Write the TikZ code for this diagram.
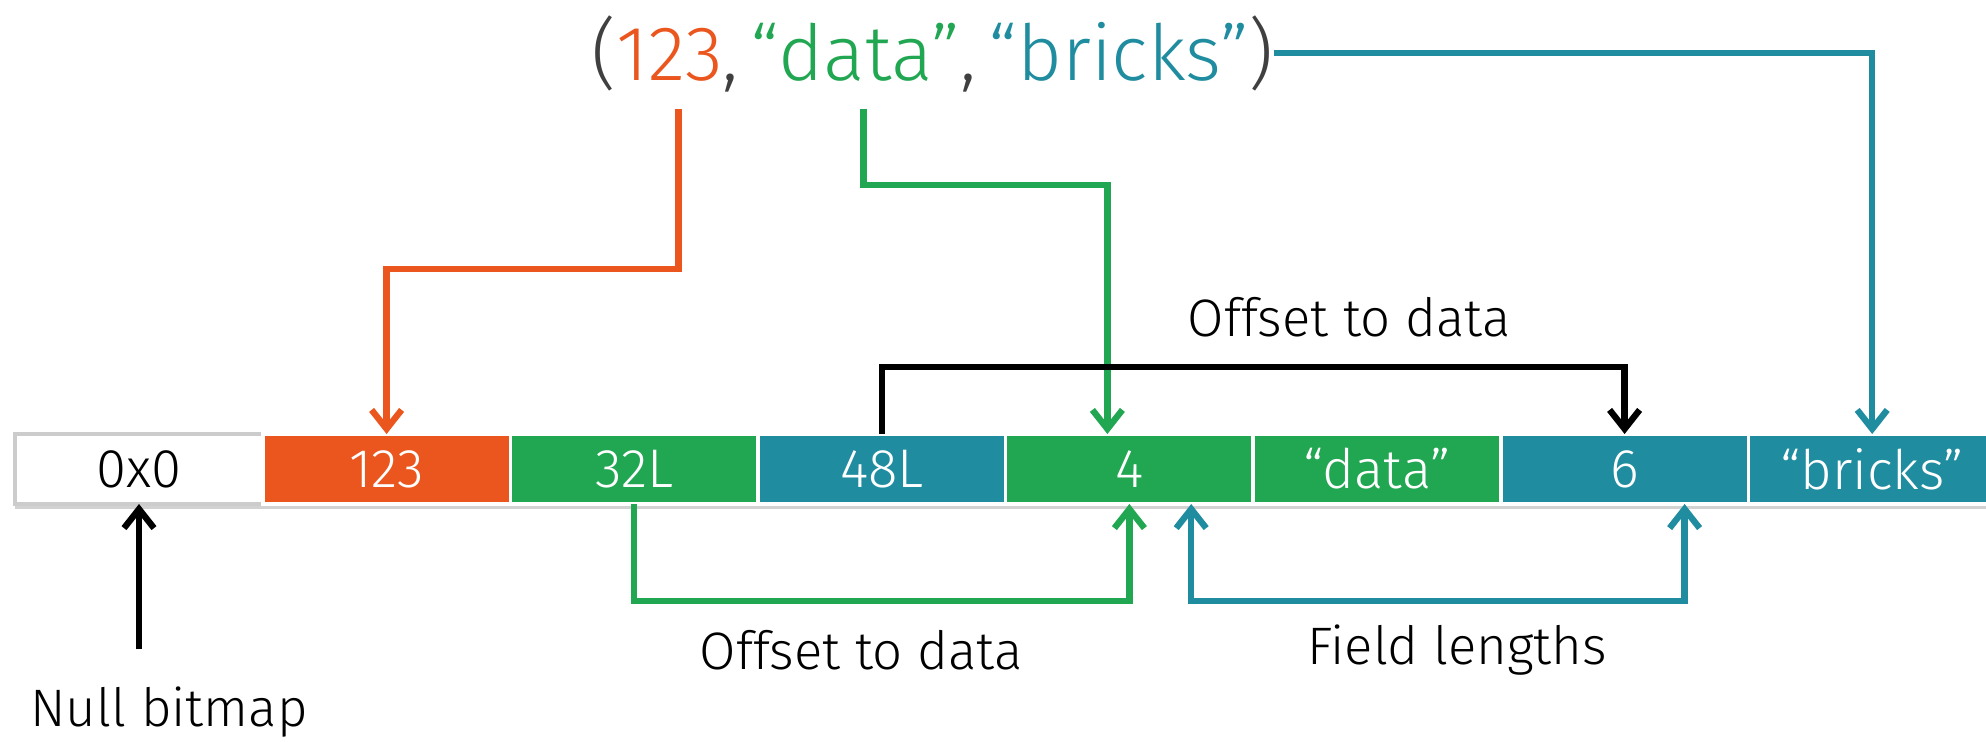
\documentclass[tikz,border=0pt]{standalone}
\usepackage{fontspec}
\setmainfont{Fira Sans}[UprightFont=* Light]
\usetikzlibrary{positioning,arrows.meta,shadows}

\definecolor{rowOrange}{RGB}{234,86,30}
\definecolor{rowGreen}{RGB}{33,166,82}
\definecolor{rowTeal}{RGB}{31,140,160}

\begin{document}
\begin{tikzpicture}[
	>={Straight Barb[length=1.9mm,width=3mm]},
	field/.style={draw=white,line width=1pt,minimum width=2.476cm,minimum height=0.7cm,inner sep=0pt,outer sep=0pt,text=white,font=\fontsize{15.5}{18}\selectfont,drop shadow={shadow xshift=0cm,shadow yshift=-0.05cm,opacity=0.35}},
	tup/.style={inner sep=0pt,outer sep=0pt,anchor=base west,font=\fontsize{22}{26}\selectfont},
	lbl/.style={font=\fontsize{15}{18}\selectfont},
	link/.style={line width=1.8pt,->}
]
	\useasboundingbox (0,0) rectangle (19.86,-7.41);
	\fill[white] (0,0) rectangle (19.86,-7.41);
	% the row
	\node[field,fill=white,draw=gray!40,text=black] (nullmap) at (1.39,-4.69) {0x0};
	\node[field,fill=rowOrange,right=0pt of nullmap] (fid) {123};
	\node[field,fill=rowGreen,right=0pt of fid] (off1) {32L};
	\node[field,fill=rowTeal,right=0pt of off1] (off2) {48L};
	\node[field,fill=rowGreen,right=0pt of off2] (len1) {4};
	\node[field,fill=rowGreen,right=0pt of len1] (str1) {“data”};
	\node[field,fill=rowTeal,right=0pt of str1] (len2) {6};
	\node[field,fill=rowTeal,right=0pt of len2] (str2) {“bricks”};
	% the tuple
	\node[tup,text=black!75] (lp) at (5.915,-0.8) {(};
	\node[tup,text=rowOrange] (num) at (lp.base east) {123};
	\node[tup,text=black!75] (c1) at (num.base east) {,};
	\node[tup,text=rowGreen] (wd) at ([xshift=0.12cm]c1.base east) {“data”};
	\node[tup,text=black!75] (c2) at (wd.base east) {,};
	\node[tup,text=rowTeal] (wb) at ([xshift=0.12cm]c2.base east) {“bricks”};
	\node[tup,text=black!75] (rp) at (wb.base east) {)};
	% labels
	\node[lbl] (toplbl) at (13.49,-3.17) {Offset to data};
	\node[lbl] (botlbl) at (8.61,-6.5) {Offset to data};
	\node[lbl] (lenlbl) at (14.57,-6.5) {Field lengths};
	\node[lbl,anchor=west] (nblbl) at (0.18,-7.12) {Null bitmap};
	% connectors
	\draw[link,rowTeal] (rp.east) -| (str2.north);
	\draw[link,rowOrange] ([xshift=0.09cm,yshift=-0.28cm]num.south) -- ++(0,-1.6) -| (fid.north);
	\draw[link,rowGreen] ([xshift=0.08cm,yshift=-0.28cm]wd.south) -- ++(0,-0.76) -| ([xshift=-0.22cm]len1.north);
	\draw[link] (off2.north) -- ++(0,0.67) -| (len2.north);
	\draw[link,rowGreen] (off1.south) -- ++(0,-0.97) -| (len1.south);
	\draw[link,rowTeal,<->] ([xshift=-0.62cm]len1.south east) -- ++(0,-0.97) -| ([xshift=0.6cm]len2.south);
	\draw[link] ([yshift=0.25cm]nblbl.north -| nullmap.south) -- (nullmap.south);
\end{tikzpicture}
\end{document}
